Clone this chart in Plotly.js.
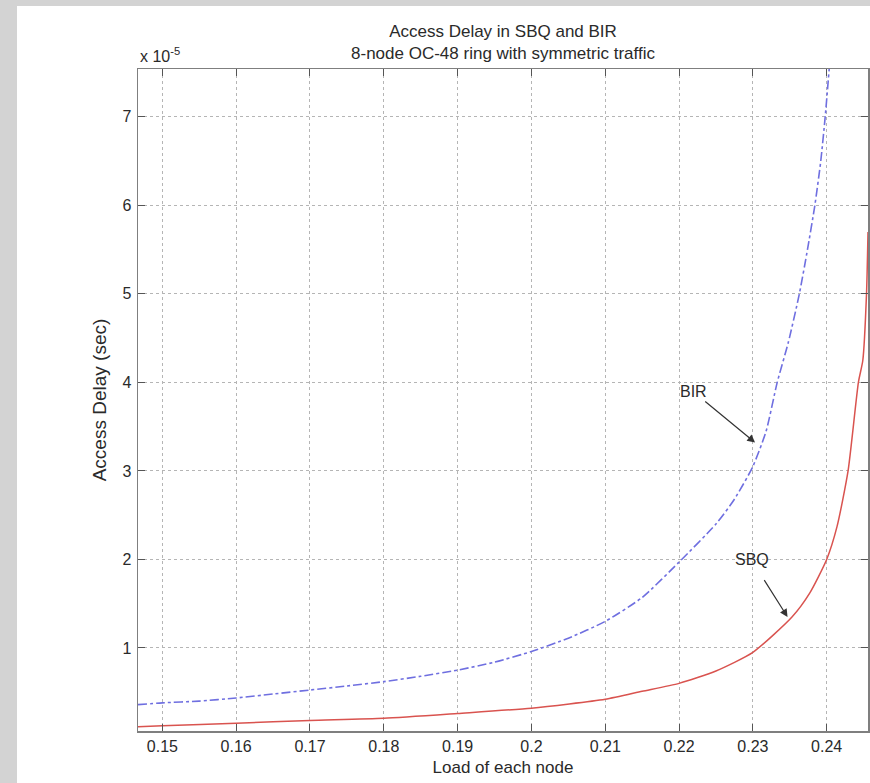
<!DOCTYPE html>
<html><head><meta charset="utf-8">
<script src="https://cdn.plot.ly/plotly-3.0.1.min.js"></script>
<style>
html,body{margin:0;padding:0;background:#d3d3d3;width:870px;height:783px;overflow:hidden;}
#chart{position:absolute;left:17px;top:6px;width:853px;height:777px;background:#fff;}
</style></head><body><div id="chart"></div>
<script>
// Access delay values in units of 1e-5 sec
const loadBIR  = [0.1467, 0.150, 0.155, 0.160, 0.165, 0.170, 0.175, 0.180, 0.185, 0.190, 0.195, 0.200, 0.205, 0.210, 0.215, 0.220, 0.225, 0.2275, 0.230, 0.2318, 0.2333, 0.2348, 0.2363, 0.2374, 0.2384, 0.2392, 0.2398, 0.2404];
const delayBIR = [0.36,   0.38,  0.40,  0.435, 0.48,  0.525, 0.57,  0.62,  0.68,  0.75,  0.84,  0.96,  1.11,  1.30,  1.57,  1.97,  2.40,  2.68,   3.05,  3.45,   4.0,    4.45,   5.0,    5.5,    6.0,    6.5,    7.0,    7.6];
const loadSBQ  = [0.1467, 0.150, 0.160, 0.170, 0.180, 0.190, 0.200, 0.210, 0.215, 0.220, 0.225, 0.230, 0.2353, 0.2377, 0.2400, 0.2414, 0.2429, 0.2443, 0.2449, 0.2454, 0.2456];
const delaySBQ = [0.11,   0.12,  0.15,  0.18,  0.205, 0.26,  0.32,  0.42,  0.51,  0.60,  0.74,  0.95,  1.35,   1.62,   2.00,   2.37,   3.00,   4.00,   4.25,   5.00,   5.70];
const xTickVals = [0.15, 0.16, 0.17, 0.18, 0.19, 0.20, 0.21, 0.22, 0.23, 0.24];
const xTickText = ['0.15','0.16','0.17','0.18','0.19','0.2','0.21','0.22','0.23','0.24'];
const yTickVals = [1, 2, 3, 4, 5, 6, 7];
const yTickText = ['1','2','3','4','5','6','7'];
const seriesNames = ['BIR', 'SBQ'];
const arrowTargets = {BIR: [0.2303, 3.32], SBQ: [0.2347, 1.35]};

const FONT = 'Liberation Sans, Arial, sans-serif';
const TXT = '#2a2a2a';

const traces = [
  {x: loadBIR, y: delayBIR, name: seriesNames[0], mode: 'lines',
   line: {color: '#6f6fe0', width: 1.6, dash: 'dashdot', shape: 'spline', smoothing: 0.6}},
  {x: loadSBQ, y: delaySBQ, name: seriesNames[1], mode: 'lines',
   line: {color: '#d9534f', width: 1.5, shape: 'spline', smoothing: 0.6}}
];

const axisCommon = {
  showline: true, linecolor: '#7f7f7f', linewidth: 1.5, mirror: 'ticks',
  ticks: 'inside', ticklen: 7, tickcolor: '#555', tickwidth: 1,
  showgrid: true, gridcolor: '#b5b5b5', griddash: 'dot', gridwidth: 1,
  zeroline: false, tickfont: {family: FONT, size: 16, color: TXT}
};

const layout = {
  width: 853, height: 777,
  margin: {l: 121, r: 2, t: 63, b: 52},
  paper_bgcolor: '#ffffff', plot_bgcolor: '#ffffff',
  showlegend: false,
  title: {text: 'Access Delay in SBQ and BIR<br>8-node OC-48 ring with symmetric traffic',
          x: 0.5, xref: 'paper', xanchor: 'center', y: 1 - 30.5/777, yref: 'container', yanchor: 'middle',
          font: {family: FONT, size: 17, color: TXT}},
  xaxis: Object.assign({}, axisCommon, {
    range: [0.1467, 0.2456], tickmode: 'array', tickvals: xTickVals, ticktext: xTickText,
    title: {text: 'Load of each node', standoff: 7, font: {family: FONT, size: 17, color: TXT}}
  }),
  yaxis: Object.assign({}, axisCommon, {
    range: [0.062, 7.54], tickmode: 'array', tickvals: yTickVals, ticktext: yTickText,
    ticklabelstandoff: 2,
    title: {text: 'Access Delay (sec)', standoff: 10, font: {family: FONT, size: 19, color: TXT}}
  }),
  annotations: [
    {xref: 'paper', yref: 'paper', x: 0, y: 1, xanchor: 'left', yanchor: 'bottom', yshift: 2,
     showarrow: false, text: 'x 10<sup>-5</sup>', font: {family: FONT, size: 16, color: TXT}},
    {x: arrowTargets.BIR[0], y: arrowTargets.BIR[1], text: seriesNames[0], showarrow: true,
     ax: -62, ay: -51, arrowhead: 2, arrowsize: 1.3, arrowwidth: 1.2, arrowcolor: '#333',
     font: {family: FONT, size: 16, color: TXT}},
    {x: arrowTargets.SBQ[0], y: arrowTargets.SBQ[1], text: seriesNames[1], showarrow: true,
     ax: -36, ay: -57, startstandoff: 12, arrowhead: 2, arrowsize: 1.3, arrowwidth: 1.2, arrowcolor: '#333',
     font: {family: FONT, size: 16, color: TXT}}
  ]
};

Plotly.newPlot('chart', traces, layout, {displayModeBar: false, staticPlot: true});
</script></body></html>
